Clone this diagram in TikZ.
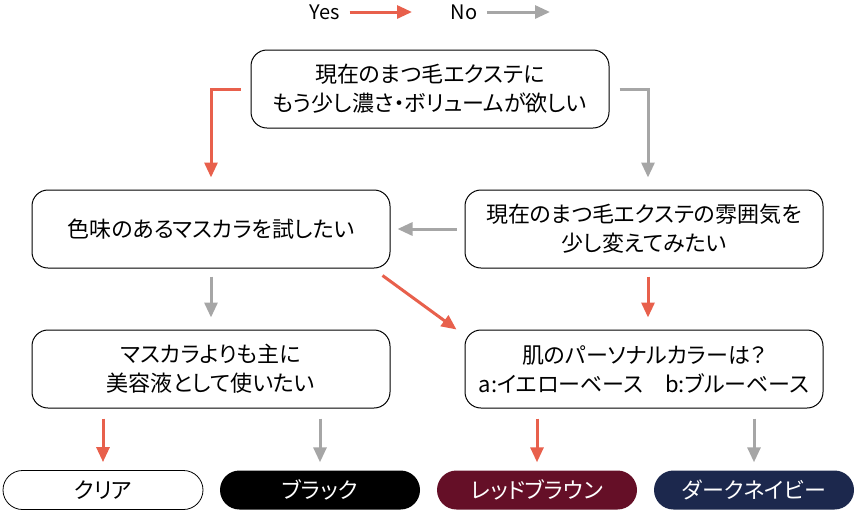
\documentclass[tikz,border=0pt]{standalone}
\usepackage{fontspec}
\setmainfont{Noto Sans CJK JP}[RawFeature=+palt]
\usetikzlibrary{positioning,shapes.misc,arrows.meta}

\definecolor{yescol}{HTML}{E8604C}
\definecolor{nocol}{HTML}{A6A6A6}
\definecolor{browncol}{HTML}{650F27}
\definecolor{navycol}{HTML}{1C284D}

\begin{document}
\begin{tikzpicture}
[
  x=1pt, y=-1pt,
  question/.style={draw, rounded corners=16pt, line width=1pt, minimum width=358pt,
    minimum height=78pt, align=center, font=\fontsize{22}{29}\selectfont},
  result/.style={rounded rectangle, minimum width=200pt, minimum height=39pt,
    inner sep=0pt, font=\fontsize{22}{24}\selectfont},
  yes/.style={draw=yescol, line width=3pt, -{Triangle[length=15pt,width=13pt]}},
  no/.style={draw=nocol, line width=3pt, -{Triangle[length=15pt,width=13pt]}},
  node distance=140pt and 433pt,
  on grid
]
 \useasboundingbox (0,0) rectangle (860,515);

 % legend
 \node[font=\fontsize{20}{24}\selectfont] (yeslbl) at (325,12) {Yes};
 \coordinate (yesend) at (412,12);
 \node[font=\fontsize{20}{24}\selectfont] (nolbl) at (464,12) {No};
 \coordinate (noend) at (550,12);

 % questions
 \node[question] (start) at (430,89) {現在のまつ毛エクステに\\もう少し濃さ・ボリュームが欲しい};
 \node[question] (tint) at (211,229) {色味のあるマスカラを試したい};
 \node[question] (mood) [right=of tint] {現在のまつ毛エクステの雰囲気を\\少し変えてみたい};
 \node[question] (serum) [below=of tint] {マスカラよりも主に\\美容液として使いたい};
 \node[question] (skin) [below=of mood] {肌のパーソナルカラーは？\\a:イエローベース\quad b:ブルーベース};

 % results
 \node[result, draw=black, line width=0.8pt] (clear) at (103,490) {クリア};
 \node[result, fill=black, text=white] (black) at (320,490) {ブラック};
 \node[result, fill=browncol, text=white] (brown) at (537,490) {レッドブラウン};
 \node[result, fill=navycol, text=white] (navy) at (754,490) {ダークネイビー};

 \draw[yes, shorten <=6pt] (yeslbl.east) -- (yesend);
 \draw[no, shorten <=6pt] (nolbl.east) -- (noend);

 \draw[yes, shorten <=10pt, shorten >=12pt] (start.west) -| (tint.north);
 \draw[no, shorten <=10pt, shorten >=12pt] (start.east) -| ([xshift=4pt]mood.north);
 \draw[no, shorten <=8pt, shorten >=7pt] (mood.west) -- (tint.east);
 \draw[no, shorten <=8pt, shorten >=12pt] (tint.south) -- (serum.north);
 \draw[yes] ([xshift=-8pt,yshift=-7pt]tint.south east) -- ([xshift=-8pt]skin.north west);
 \draw[yes, shorten <=8pt, shorten >=12pt] ([xshift=4pt]mood.south) -- ([xshift=4pt]skin.north);

 \draw[yes, shorten <=10pt, shorten >=8pt] (serum.south -| clear) -- (clear.north);
 \draw[no, shorten <=10pt, shorten >=8pt] (serum.south -| black) -- (black.north);
 \draw[yes, shorten <=10pt, shorten >=8pt] (skin.south -| brown) -- (brown.north);
 \draw[no, shorten <=10pt, shorten >=8pt] (skin.south -| navy) -- (navy.north);
\end{tikzpicture}
\end{document}
